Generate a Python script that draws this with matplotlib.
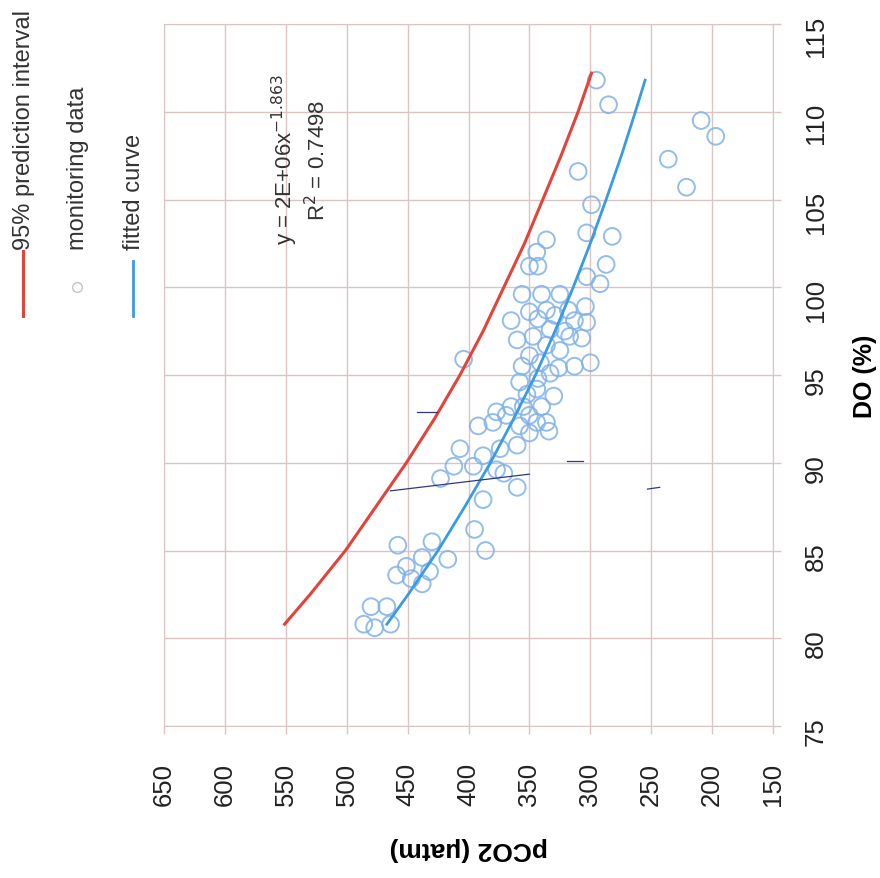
import matplotlib.pyplot as plt
from matplotlib.lines import Line2D

plt.rcParams['font.family'] = ['Liberation Sans', 'DejaVu Sans']

# axis ticks
pco2_ticks = [150, 200, 250, 300, 350, 400, 450, 500, 550, 600, 650]
do_ticks = [75, 80, 85, 90, 95, 100, 105, 110, 115]

# monitoring data (pCO2 uatm, DO %)
obs_pco2 = [295, 285, 209, 197, 236, 221, 310, 299, 303, 282, 336, 344, 287, 343, 350,
            292, 303, 356, 340, 325, 350, 365, 343, 329, 318, 313, 304, 303, 360, 347,
            333, 321, 307, 336, 325, 404, 356, 341, 326, 313, 300, 350, 333, 330, 344,
            358, 355, 369, 380, 377, 392, 407, 344, 334, 350, 360, 374, 388, 396, 412,
            423, 377, 360, 371, 388, 395, 386, 417, 430, 458, 438, 451, 459, 447, 438,
            432, 480, 467, 486, 477, 464, 336, 317, 343, 352, 340, 365, 350, 358, 336]
obs_do = [111.8, 110.4, 109.5, 108.6, 107.3, 105.7, 106.6, 104.7, 103.1, 102.9, 102.7, 102.0, 101.3, 101.2, 101.2,
          100.2, 100.6, 99.6, 99.6, 99.6, 98.6, 98.1, 98.2, 98.4, 98.7, 98.1, 98.9, 98.0, 97.0, 97.2,
          97.6, 97.5, 97.1, 96.7, 96.4, 95.9, 95.5, 95.7, 95.4, 95.5, 95.7, 96.1, 95.1, 93.8, 94.2,
          94.6, 93.2, 92.7, 92.3, 92.9, 92.1, 90.8, 92.3, 91.8, 91.7, 91.0, 90.8, 90.4, 89.8, 89.8,
          89.1, 89.6, 88.6, 89.4, 87.9, 86.2, 85.0, 84.5, 85.5, 85.3, 84.6, 84.1, 83.6, 83.4, 83.1,
          83.8, 81.8, 81.8, 80.8, 80.6, 80.8, 98.7, 97.2, 94.8, 93.9, 93.2, 93.2, 92.7, 92.1, 92.3]

# fitted curve  y = 2E+06x^-1.863
fit_do = [80.8, 82.5, 85, 87.5, 90, 92.5, 95, 97.5, 100, 102.5, 105, 107.5, 110, 111.8]
fit_pco2 = [467, 449.5, 425, 403, 382, 363, 345, 329, 314, 300, 287, 274.5, 263, 255]

# upper 95% prediction interval
pi_do = [80.8, 82.5, 85, 87.5, 90, 92.5, 95, 97.5, 100, 102.5, 105, 107.5, 110, 112.2]
pi_pco2 = [551, 530, 501, 476, 451, 428, 407, 388, 371, 354, 339, 324, 310, 299]

# hand drawn pen marks on the scan
pen_marks = [([464, 350], [88.4, 89.35]),
             ([442, 426], [92.9, 92.9]),
             ([319, 306], [90.1, 90.1]),
             ([253, 243], [88.5, 88.6])]

RED = '#e2433b'
BLUE = '#3b9be2'
GRID = '#dcc4c4'

W, H = 880, 879
fig = plt.figure(figsize=(8.8, 8.79), dpi=100)
ax = fig.add_axes([164 / W, 1 - 727 / H, 609 / W, 702 / H])

ax.scatter(obs_pco2, obs_do, s=145, facecolors='none', edgecolors='#80b2ea',
           linewidths=1.4, alpha=0.85, zorder=3)
ax.plot(fit_pco2, fit_do, color=BLUE, lw=2.0, zorder=4)
ax.plot(pi_pco2, pi_do, color=RED, lw=2.2, zorder=4)
for px, py in pen_marks:
    ax.plot(px, py, color='#2c3a86', lw=0.9, zorder=5)

ax.set_xlim(650, 150)
ax.set_ylim(75, 115)
ax.set_xticks(pco2_ticks)
ax.set_yticks(do_ticks)
ax.yaxis.tick_right()
ax.yaxis.set_label_position('right')
ax.grid(True, color=GRID, lw=1.0)
ax.set_axisbelow(True)
for sp in ax.spines.values():
    sp.set_color(GRID)
ax.tick_params(axis='both', color=GRID, length=6, width=1, labelsize=18.5,
               labelcolor='#222222')
ax.tick_params(axis='x', labelrotation=90, pad=20)
ax.tick_params(axis='y', labelrotation=90, pad=16)

ax.set_xlabel('pCO2 (μatm)', rotation=180, fontsize=19, fontweight='bold', labelpad=22)
ax.set_ylabel('DO (%)', rotation=90, fontsize=18, fontweight='bold', labelpad=18)

# legend (rotated with the rest of the page)
fig.add_artist(Line2D([23 / W, 23 / W], [1 - 252 / H, 1 - 317 / H], color=RED, lw=2.2))
fig.text(24 / W, 1 - 250 / H, '95% prediction interval', rotation=90,
         rotation_mode='anchor', ha='left', va='center', fontsize=17, color='#333333')
fig.add_artist(Line2D([77 / W], [1 - 288 / H], marker='o', mfc='none', mec='#c4c4c4',
                      ms=7, ls='none'))
fig.text(78 / W, 1 - 250 / H, 'monitoring data', rotation=90,
         rotation_mode='anchor', ha='left', va='center', fontsize=17, color='#333333')
fig.add_artist(Line2D([133 / W, 133 / W], [1 - 262 / H, 1 - 317 / H], color=BLUE, lw=2.0))
fig.text(134 / W, 1 - 250 / H, 'fitted curve', rotation=90,
         rotation_mode='anchor', ha='left', va='center', fontsize=17, color='#333333')

# trend line equation
fig.text(300 / W, 1 - 160 / H, 'y = 2E+06x$^{-1.863}$\nR$^2$ = 0.7498', rotation=90,
         ha='center', va='center', multialignment='center', fontsize=16, color='#333333')

fig.savefig('out.png', dpi=100)
